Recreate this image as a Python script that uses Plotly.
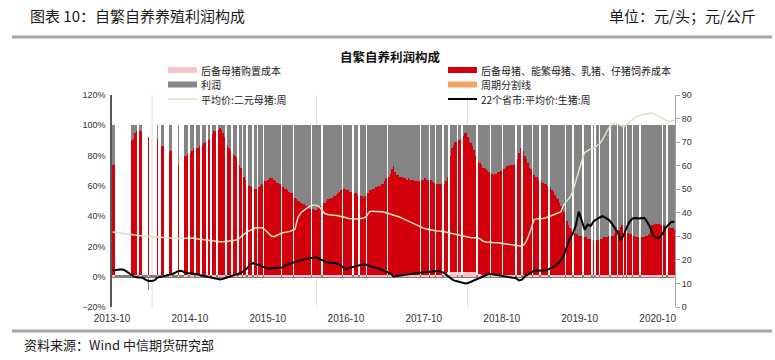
import pandas as pd
import plotly.graph_objects as go

# ---------------- data ----------------
week_start = "2013-10-04"          # weekly bars (None = no observation that week)
red_top = [  # cumulative top of the cost share (pink + red), % of total
    74, 74, None, None, None, None, None, None, None, None,
    None, None, None, 90, 91, 95, 96, None, 96, 96,
    None, None, None, None, 92, None, None, None, None, None,
    91, None, None, 86, 86, None, None, None, 83, 83,
    None, None, None, None, 74, None, None, None, 80, 80,
    81, None, 82, 83, 85, None, 85, 85, 86, None,
    87, 88, 89, None, 90, 91, None, 94, 96, 96,
    None, 97, 98, 97, 95, 92, None, 87, 85, 84,
    None, 81, 80, 79, None, 74, 72, None, 66, 64,
    None, 60, 60, 59, None, 58, 58, None, 59, 60,
    61, None, 63, 63, 64, 65, 65, 65, 64, 63,
    62, 62, 61, None, 59, 58, 58, 57, 56, 55,
    55, None, 52, 51, 50, 50, 49, 48, 48, 47,
    47, 46, 45, None, 45, 44, 44, 45, 46, 47,
    None, 49, 49, 50, 51, 51, 52, 52, 53, 53,
    54, 55, 56, 57, None, 58, 58, 57, 57, 56,
    56, None, 55, 55, 54, None, 53, 53, 52, 53,
    None, 55, 57, 57, 58, 58, 59, 59, 60, 60,
    61, 61, 63, 65, None, 66, 68, 71, 73, 69,
    67, 67, 66, 66, 66, 65, 65, 64, 65, 64,
    64, 64, 63, 63, 63, 63, None, 64, 64, 65,
    64, 64, None, 64, 63, 62, None, 61, 61, 61,
    61, None, 61, 63, 66, None, 80, 85, 87, 89,
    89, None, 90, 91, None, 93, 95, 95, 92, 89,
    88, 86, 84, 80, None, 76, 75, 74, 72, 72,
    71, 70, 69, None, 68, 67, 68, 68, 69, 69,
    70, None, 71, 72, 73, 73, 74, 74, 74, 74,
    None, 78, 82, 85, None, 83, 80, 78, 75, 72,
    71, None, 67, 66, 66, 64, None, 63, 62, 61,
    61, 60, None, 59, 57, 56, 54, 52, 51, 49,
    47, 45, 43, None, 37, 34, 32, 31, None, 29,
    28, 28, 27, 27, 27, None, 26, 26, 25, 25,
    25, None, 24, None, 24, 24, None, 25, 25, 26,
    26, 26, 27, None, 27, 27, 28, 30, None, 31,
    33, 34, None, 31, None, 29, 28, 28, None, 27,
    26, 26, 26, None, 26, 26, 26, 27, 27, 28,
    31, 34, 34, 35, 35, 35, 35, 34, None, 34,
    33, None, 32, 32, 32, 32, 31,
]
pink_share = [  # 后备母猪购置成本 share, %
    1, 1, 1, 1, 1, 1, 1, 1, 1, 1,
    1, 1, 1, 1, 1, 1, 1, 1, 1, 1,
    1, 1, 1, 1, 1, 1, 1, 1, 1, 1,
    1, 1, 1, 1, 1, 1, 1, 1, 1, 1,
    1, 1, 1, 1, 1, 1, 1, 1, 1, 1,
    1, 1, 1, 1, 1, 1, 1, 1, 1, 1,
    1, 1, 1, 1, 1, 1, 1, 1, 1, 1,
    1, 1, 1, 1, 1, 1, 1, 1, 1, 1,
    1, 1, 1, 1, 1, 1, 1, 1, 1, 1,
    1, 1, 1, 1, 1, 1, 1, 1, 1, 1,
    1, 1, 1, 1, 1, 1, 1, 1, 1, 1,
    1, 1, 1, 1, 1, 1, 1, 1, 1, 1,
    1, 1, 1, 1, 1, 1, 1, 1, 1, 1,
    1, 1, 1, 1, 1, 1, 1, 1, 1, 1,
    1, 1, 1, 1, 1, 1, 1, 1, 1, 1,
    1, 1, 1, 1, 1, 1, 1, 1, 1, 1,
    1, 1, 1, 1, 1, 1, 1, 1, 1, 1,
    1, 1, 1, 1, 1, 1, 1, 1, 1, 1,
    1, 1, 1, 1, 1, 1, 1, 1, 1, 1,
    1, 1, 1, 1, 1, 1, 1, 1, 1, 1,
    1, 1, 1, 1, 1, 1, 1, 1, 1, 1,
    1, 1, 1, 1, 1, 1, 1, 1, 1, 1,
    1, 1, 2, 2, 3, 3, 3, 3, 3, 3,
    3, 3, 3, 3, 3, 3, 3, 3, 3, 3,
    3, 3, 3, 3, 3, 2, 2, 1, 1, 1,
    1, 1, 1, 1, 1, 1, 1, 1, 1, 1,
    1, 1, 1, 1, 1, 1, 1, 1, 1, 1,
    1, 1, 1, 1, 1, 1, 1, 1, 1, 1,
    1, 1, 1, 1, 1, 1, 1, 1, 1, 1,
    1, 1, 1, 1, 1, 1, 1, 1, 1, 1,
    1, 1, 1, 1, 1, 1, 1, 1, 1, 1,
    1, 1, 1, 1, 1, 1, 1, 1, 1, 1,
    1, 1, 1, 1, 1, 1, 1, 1, 1, 1,
    1, 1, 1, 1, 1, 1, 1, 1, 1, 1,
    1, 1, 1, 1, 1, 1, 1, 1, 1, 1,
    1, 1, 1, 1, 1, 1, 1, 1, 1, 1,
    1, 1, 1, 1, 1, 1, 1, 1, 1, 1,
    1, 1, 1, 1, 1, 1, 1,
]
loss_weeks = [("2014-03-21", -9.0)]   # week with negative profit share

line_start = "2013-10-04"          # bi-weekly price readings
hog_price = [  # 22个省市:平均价:生猪, 元/公斤
    15.5, 15.7, 15.9, 16.0, 15.6, 14.7, 13.8, 13.0, 12.6, 12.5,
    12.4, 11.6, 11.0, 11.0, 11.3, 12.5, 12.8, 13.0, 13.1, 13.5,
    14.0, 14.6, 15.3, 15.4, 14.7, 14.4, 14.3, 14.2, 14.0, 13.6,
    13.3, 13.1, 12.8, 12.5, 12.4, 12.0, 11.7, 12.0, 12.5, 12.9,
    13.4, 13.7, 14.1, 14.5, 15.4, 16.4, 18.0, 18.6, 18.2, 17.7,
    17.0, 16.6, 16.3, 16.3, 16.6, 16.7, 16.7, 16.9, 17.8, 18.3,
    18.7, 19.0, 19.5, 19.9, 20.2, 20.5, 20.8, 21.0, 21.2, 20.5,
    19.9, 19.3, 18.8, 18.8, 18.8, 18.4, 17.9, 17.0, 16.0, 16.5,
    16.9, 17.2, 17.5, 17.8, 18.0, 17.9, 17.4, 17.1, 16.9, 16.4,
    15.8, 15.2, 14.8, 14.2, 13.0, 13.2, 13.4, 13.7, 13.9, 14.1,
    14.2, 14.3, 14.5, 14.6, 14.8, 14.9, 15.0, 15.4, 15.5, 15.3,
    15.0, 14.4, 13.3, 12.3, 11.4, 11.0, 10.7, 10.2, 10.0, 10.2,
    10.8, 11.3, 11.8, 12.3, 13.0, 13.6, 14.1, 13.9, 13.7, 13.6,
    13.4, 13.1, 12.9, 12.7, 12.5, 12.2, 11.3, 11.6, 13.0, 14.0,
    14.7, 15.3, 15.4, 15.3, 15.4, 15.6, 16.1, 16.7, 17.5, 18.4,
    19.8, 22.0, 25.5, 29.0, 31.2, 34.5, 40.5, 37.0, 32.8, 35.0,
    34.4, 36.4, 37.4, 38.0, 38.6, 37.8, 37.1, 35.6, 33.8, 31.8,
    28.5, 30.3, 33.6, 36.3, 37.6, 37.8, 37.6, 37.7, 37.8, 36.0,
    33.5, 30.3, 29.4, 29.4, 31.0, 33.5, 35.0, 36.2, 36.1,
]
sow_price = [  # 平均价:二元母猪, 元/公斤
    31.8, 31.6, 31.4, 31.2, 31.0, 30.8, 30.6, 30.5, 30.3, 30.2,
    30.1, 30.0, 29.9, 29.8, 29.7, 29.6, 29.5, 29.3, 29.2, 29.1,
    29.1, 29.1, 29.1, 29.1, 29.2, 29.3, 29.4, 29.3, 29.0, 28.8,
    28.7, 28.5, 28.3, 28.2, 28.0, 27.9, 27.7, 27.7, 27.8, 27.9,
    28.0, 28.3, 28.7, 29.8, 31.1, 32.0, 32.5, 32.9, 33.6, 33.6,
    33.6, 32.8, 31.6, 30.2, 29.8, 30.5, 31.0, 31.5, 31.6, 32.0,
    32.5, 32.9, 38.0, 40.0, 41.0, 42.1, 42.8, 43.2, 43.2, 42.8,
    41.0, 39.7, 39.3, 39.0, 38.9, 38.8, 38.6, 38.3, 38.0, 37.6,
    37.4, 37.4, 37.4, 37.6, 37.8, 38.5, 40.5, 40.7, 40.7, 40.6,
    40.4, 40.2, 39.8, 39.5, 39.3, 38.8, 38.2, 37.6, 37.0, 36.4,
    35.8, 35.1, 34.5, 33.9, 33.5, 33.1, 32.8, 32.5, 32.4, 32.3,
    32.2, 31.9, 31.6, 31.3, 31.0, 30.7, 30.4, 30.1, 29.9, 29.6,
    29.4, 29.4, 29.4, 28.9, 27.9, 27.6, 27.4, 27.3, 27.3, 27.3,
    27.1, 26.9, 26.7, 26.5, 26.3, 26.2, 26.0, 25.8, 26.8, 29.5,
    33.0, 37.0, 37.5, 37.4, 37.6, 37.9, 38.5, 39.0, 39.4, 39.9,
    40.4, 43.5, 45.0, 46.5, 49.0, 53.5, 58.0, 62.0, 65.6, 66.5,
    67.1, 67.5, 68.3, 69.3, 71.2, 73.5, 75.9, 77.3, 78.1, 77.8,
    77.2, 76.4, 77.3, 78.3, 79.7, 80.6, 81.2, 81.7, 81.8, 82.0,
    82.2, 82.0, 81.5, 80.8, 80.0, 79.3, 78.8, 78.9, 79.4,
]
cycle_dates = ["2014-04-07", "2016-05-17", "2018-04-24"]   # 周期分割线
x_tickvals = ["2013-10-01", "2014-10-01", "2015-10-01", "2016-10-01",
              "2017-10-01", "2018-10-01", "2019-10-01", "2020-10-01"]
x_ticktext = ["2013-10", "2014-10", "2015-10", "2016-10",
              "2017-10", "2018-10", "2019-10", "2020-10"]
x_range = ["2013-10-01", "2020-12-21"]

# ---------------- geometry helpers (figure px -> paper) ----------------
W, H = 775, 360
ML, MR, MT, MB = 112, 100, 95, 53
PW, PH = W - ML - MR, H - MT - MB


def px(x):
    return (x - ML) / PW


def py(y):
    return (H - MB - y) / PH


CJK = "Noto Sans CJK SC"
LAT = "Liberation Sans, Arial"
C_PINK = "rgba(246,198,203,0.995)"
C_RED = "rgba(212,0,12,0.995)"
C_GRAY = "rgba(134,134,134,0.995)"
C_SOW = "#d3e5c1"
C_HOG = "#000000"
C_ORANGE = "#f4a25e"

# ---------------- build series ----------------
weeks = pd.date_range(week_start, periods=len(red_top), freq="7D")
loss = {pd.Timestamp(d): v for d, v in loss_weeks}
pink_y, red_y, gray_y = [], [], []
for d, top, p in zip(weeks, red_top, pink_share):
    if top is None:
        pink_y.append(None); red_y.append(None); gray_y.append(None)
    else:
        pink_y.append(p)
        red_y.append(top - p)
        gray_y.append(loss.get(d, 100 - top))

line_dates = pd.date_range(line_start, periods=len(hog_price), freq="14D")

fig = go.Figure()
for name, ys, col in [("后备母猪购置成本", pink_y, C_PINK),
                      ("后备母猪、能繁母猪、乳猪、仔猪饲养成本", red_y, C_RED),
                      ("利润", gray_y, C_GRAY)]:
    fig.add_trace(go.Bar(x=weeks, y=ys, name=name,
                         marker=dict(color=col, line=dict(width=0.02, color=col)),
                         hoverinfo="skip"))

fig.add_trace(go.Scatter(x=line_dates, y=sow_price, yaxis="y2", mode="lines",
                         name="平均价:二元母猪:周", line=dict(color=C_SOW, width=1.5),
                         hoverinfo="skip"))
fig.add_trace(go.Scatter(x=line_dates, y=hog_price, yaxis="y2", mode="lines",
                         name="22个省市:平均价:生猪:周", line=dict(color=C_HOG, width=2),
                         hoverinfo="skip"))

shapes = []
for d in cycle_dates:
    shapes.append(dict(type="line", xref="x", yref="y", x0=d, x1=d, y0=-20, y1=120,
                       layer="below", line=dict(color="#e2ddd8", width=1)))
# header / footer rules
for yy in (37, 331):
    shapes.append(dict(type="line", xref="paper", yref="paper", x0=px(12), x1=px(772),
                       y0=py(yy), y1=py(yy), line=dict(color="#a8a8a8", width=3)))

annotations = [
    dict(text="图表 10：自繁自养养殖利润构成", x=px(28), y=py(16), xanchor="left",
         yanchor="middle", font=dict(family=CJK, size=15, color="#1a1a1a")),
    dict(text="单位：元/头；元/公斤", x=px(758), y=py(16), xanchor="right",
         yanchor="middle", font=dict(family=CJK, size=15, color="#1a1a1a")),
    dict(text="<b>自繁自养利润构成</b>", x=px(390), y=py(56), xanchor="center",
         yanchor="middle", font=dict(family=CJK, size=12.5, color="#111111")),
    dict(text="资料来源：Wind 中信期货研究部", x=px(22), y=py(344), xanchor="left",
         yanchor="middle", font=dict(family=CJK, size=13, color="#1a1a1a")),
]

# manual two-column legend
LEG_FONT = 10
legend_rows = [
    (168, 70, "bar", C_PINK, "后备母猪购置成本"),
    (168, 84.5, "bar", C_GRAY, "利润"),
    (168, 99, "line", C_SOW, "平均价:二元母猪:周"),
    (448, 70, "bar", C_RED, "后备母猪、能繁母猪、乳猪、仔猪饲养成本"),
    (448, 84.5, "bar", C_ORANGE, "周期分割线"),
    (448, 99, "line", C_HOG, "22个省市:平均价:生猪:周"),
]
for x0, yc, kind, col, label in legend_rows:
    if kind == "bar":
        shapes.append(dict(type="rect", xref="paper", yref="paper",
                           x0=px(x0), x1=px(x0 + 29), y0=py(yc + 3), y1=py(yc - 3),
                           fillcolor=col, line=dict(width=0)))
    else:
        shapes.append(dict(type="line", xref="paper", yref="paper",
                           x0=px(x0), x1=px(x0 + 29), y0=py(yc), y1=py(yc),
                           line=dict(color=col, width=1.5 if col == C_SOW else 2)))
    annotations.append(dict(text=label, x=px(x0 + 32), y=py(yc), xanchor="left",
                            yanchor="middle", borderpad=0,
                            font=dict(family=CJK, size=LEG_FONT, color="#1a1a1a")))

for a in annotations:
    a.update(xref="paper", yref="paper", showarrow=False)

fig.update_layout(
    width=W, height=H,
    margin=dict(l=ML, r=MR, t=MT, b=MB, pad=0),
    paper_bgcolor="white", plot_bgcolor="white",
    barmode="relative", bargap=0, bargroupgap=0,
    showlegend=False,
    shapes=shapes, annotations=annotations,
    xaxis=dict(type="date", range=x_range, tickvals=x_tickvals, ticktext=x_ticktext,
               showgrid=False, showline=False, zeroline=False, ticks="",
               ticklabelstandoff=4,
               tickfont=dict(family=LAT, size=10, color="#333333")),
    yaxis=dict(range=[-20, 120], dtick=20, ticksuffix="%", showgrid=False,
               showline=True, linecolor="#595959", linewidth=1.5, ticks="",
               ticklabelstandoff=3,
               zeroline=True, zerolinecolor="#7f7f7f", zerolinewidth=2.5,
               tickfont=dict(family=LAT, size=9, color="#333333")),
    yaxis2=dict(range=[0, 90], dtick=10, overlaying="y", side="right",
                showgrid=False, zeroline=False, showline=True, linecolor="#a6a6a6",
                linewidth=1, ticks="outside", ticklen=4, tickcolor="#a6a6a6",
                tickfont=dict(family=LAT, size=9, color="#333333")),
)

fig.write_html("out.html", config={"displayModeBar": False},
               post_script="document.body.style.margin='0';document.body.style.overflow='hidden';")
